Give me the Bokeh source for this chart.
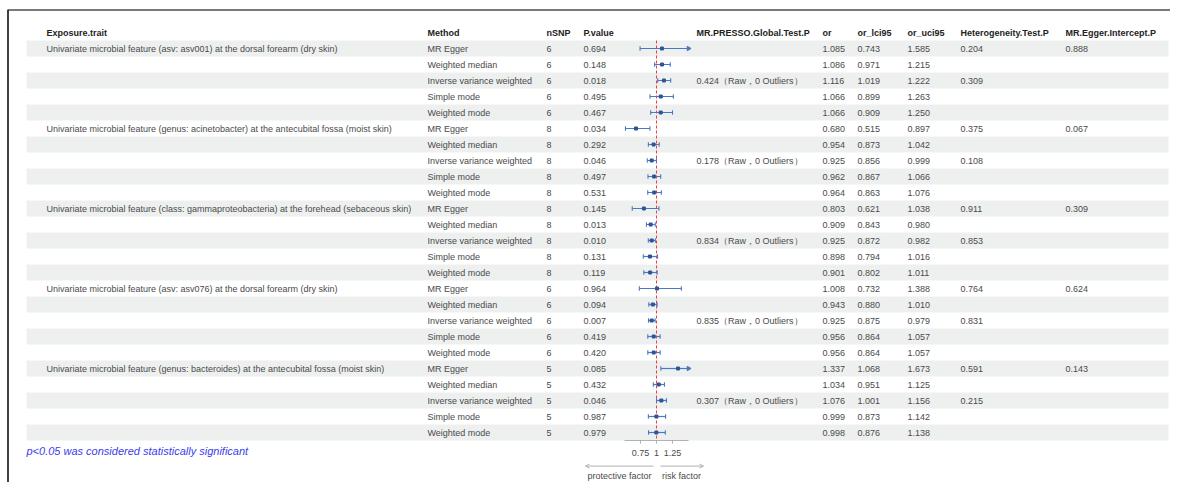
import numpy as np
from bokeh.plotting import figure
from bokeh.models import ColumnDataSource, Range1d, Arrow, OpenHead
from bokeh.core.properties import value
from bokeh.embed import file_html
from bokeh.resources import INLINE

# ---------------- data ----------------
exposures = [
    "Univariate microbial feature (asv: asv001) at the dorsal forearm (dry skin)",
    "Univariate microbial feature (genus: acinetobacter) at the antecubital fossa (moist skin)",
    "Univariate microbial feature (class: gammaproteobacteria) at the forehead (sebaceous skin)",
    "Univariate microbial feature (asv: asv076) at the dorsal forearm (dry skin)",
    "Univariate microbial feature (genus: bacteroides) at the antecubital fossa (moist skin)",
]
methods = ["MR Egger", "Weighted median", "Inverse variance weighted", "Simple mode", "Weighted mode"]
group_nsnp = [6, 8, 8, 6, 5]
p_values = [
    "0.694", "0.148", "0.018", "0.495", "0.467",
    "0.034", "0.292", "0.046", "0.497", "0.531",
    "0.145", "0.013", "0.010", "0.131", "0.119",
    "0.964", "0.094", "0.007", "0.419", "0.420",
    "0.085", "0.432", "0.046", "0.987", "0.979",
]
presso = ["0.424", "0.178", "0.834", "0.835", "0.307"]
or_vals = [1.085, 1.086, 1.116, 1.066, 1.066,
           0.680, 0.954, 0.925, 0.962, 0.964,
           0.803, 0.909, 0.925, 0.898, 0.901,
           1.008, 0.943, 0.925, 0.956, 0.956,
           1.337, 1.034, 1.076, 0.999, 0.998]
or_lci = [0.743, 0.971, 1.019, 0.899, 0.909,
          0.515, 0.873, 0.856, 0.867, 0.863,
          0.621, 0.843, 0.872, 0.794, 0.802,
          0.732, 0.880, 0.875, 0.864, 0.864,
          1.068, 0.951, 1.001, 0.873, 0.876]
or_uci = [1.585, 1.215, 1.222, 1.263, 1.250,
          0.897, 1.042, 0.999, 1.066, 1.076,
          1.038, 0.980, 0.982, 1.016, 1.011,
          1.388, 1.010, 0.979, 1.057, 1.057,
          1.673, 1.125, 1.156, 1.142, 1.138]
het_egger = ["0.204", "0.375", "0.911", "0.764", "0.591"]
het_ivw = ["0.309", "0.108", "0.853", "0.831", "0.215"]
egger_intercept = ["0.888", "0.067", "0.309", "0.624", "0.143"]
headers = ["Exposure.trait", "Method", "nSNP", "P.value", "MR.PRESSO.Global.Test.P",
           "or", "or_lci95", "or_uci95", "Heterogeneity.Test.P", "MR.Egger.Intercept.P"]
x_ticks = [0.75, 1, 1.25]
x_lim = (0.5, 1.5)
arrow_labels = ["protective factor", "risk factor"]
footnote = "p<0.05 was considered statistically significant"

# ---------------- layout constants ----------------
W, H = 1170, 482
ROW_PX = 16
ROW0_PX = 48            # canvas y of first row centre
REF_PX = 656            # canvas x of OR = 1
OR_PX = 64              # pixels per OR unit
col_x = [46, 427, 546, 583, 696, 822, 857, 907, 960, 1065]
FONT = value("Liberation Sans")
TXT = "#4a4a4a"

n_rows = len(or_vals)
rows = list(range(n_rows))

# expand tables into per-row columns
c_expo, c_meth, c_nsnp, c_presso, c_het, c_egg = [], [], [], [], [], []
for g in range(len(exposures)):
    for k, m in enumerate(methods):
        c_expo.append(exposures[g] if k == 0 else "")
        c_meth.append(m)
        c_nsnp.append(str(group_nsnp[g]))
        c_presso.append(f"{presso[g]}（Raw，0 Outliers）" if k == 2 else "")
        c_het.append(het_egger[g] if k == 0 else (het_ivw[g] if k == 2 else ""))
        c_egg.append(egger_intercept[g] if k == 0 else "")
c_or = [f"{v:.3f}" for v in or_vals]
c_lci = [f"{v:.3f}" for v in or_lci]
c_uci = [f"{v:.3f}" for v in or_uci]
table_cols = [c_expo, c_meth, c_nsnp, p_values, c_presso, c_or, c_lci, c_uci, c_het, c_egg]

y_top = -ROW0_PX / ROW_PX
y_bot = y_top + H / ROW_PX
or_start = 1 - REF_PX / OR_PX
p = figure(width=W, height=H, output_backend="svg", toolbar_location=None,
           x_range=Range1d(0, W), y_range=Range1d(y_bot, y_top),
           min_border=0, min_border_left=0, min_border_right=0,
           min_border_top=0, min_border_bottom=0)
p.extra_x_ranges = {"or": Range1d(or_start, or_start + W / OR_PX)}
p.axis.visible = False
p.grid.visible = False
p.outline_line_color = None
p.background_fill_color = "white"

# zebra shading
shade_rows = [r for r in rows if r % 2 == 0]
p.hbar(y=shade_rows, height=1, left=26, right=1168, fill_color="#EEF0F0", line_color=None)

# frame lines (screenshot border)
p.segment(x0=[7], x1=[W], y0=[y_top + 9.5 / ROW_PX], y1=[y_top + 9.5 / ROW_PX],
          line_color="#7a7a7a", line_width=2)
p.segment(x0=[7.5], x1=[7.5], y0=[y_top + 9.5 / ROW_PX], y1=[y_bot],
          line_color="#111111", line_width=1.6)

# header
p.text(x=col_x, y=[-1] * len(headers), text=headers, text_font=FONT, text_font_size="9px",
       text_font_style="bold", text_color="#222222", text_baseline="middle", text_align="left")

# table cells
for cx, col in zip(col_x, table_cols):
    p.text(x=[cx] * n_rows, y=rows, text=col, text_font=FONT, text_font_size="9px",
           text_color=TXT, text_baseline="middle", text_align="left")

# reference line
p.segment(x0=[1], x1=[1], y0=[-0.5], y1=[n_rows - 0.5], x_range_name="or",
          line_color="#F03C3C", line_width=1, line_dash="3 2")

# CIs
lo = [max(v, x_lim[0]) for v in or_lci]
hi = [min(v, x_lim[1]) for v in or_uci]
ci_src = ColumnDataSource(dict(y=rows, lo=lo, hi=hi, est=or_vals))
p.segment(x0="lo", x1="hi", y0="y", y1="y", source=ci_src, x_range_name="or",
          line_color="#4A78C2", line_width=1.2)
cap_lo = [(v, r) for v, r in zip(or_lci, rows) if v >= x_lim[0]]
cap_hi = [(v, r) for v, r in zip(or_uci, rows) if v <= x_lim[1]]
for caps in (cap_lo, cap_hi):
    p.segment(x0=[c[0] for c in caps], x1=[c[0] for c in caps],
              y0=[c[1] - 0.14 for c in caps], y1=[c[1] + 0.14 for c in caps],
              x_range_name="or", line_color="#4A78C2", line_width=1.1)
clip_hi = [r for v, r in zip(or_uci, rows) if v > x_lim[1]]
if clip_hi:
    p.scatter(x=[x_lim[1]] * len(clip_hi), y=clip_hi, marker="triangle", angle=-np.pi / 2,
              size=4.5, x_range_name="or", fill_color="#4A78C2", line_color="#4A78C2")
p.scatter(x="est", y="y", source=ci_src, x_range_name="or", marker="square", size=3,
          fill_color="#2F5597", line_color="#2F5597")

# forest axis
axis_y = n_rows - 0.5
p.segment(x0=[x_lim[0]], x1=[x_lim[1]], y0=[axis_y], y1=[axis_y], x_range_name="or",
          line_color="#a0a0a0", line_width=0.8)
p.segment(x0=x_ticks, x1=x_ticks, y0=[axis_y] * 3, y1=[axis_y + 0.2] * 3, x_range_name="or",
          line_color="#a0a0a0", line_width=0.8)
p.text(x=x_ticks, y=[axis_y + 0.8] * 3, text=[f"{t:g}" for t in x_ticks], x_range_name="or",
       text_font=FONT, text_font_size="9px", text_color=TXT,
       text_baseline="middle", text_align="center")

# direction arrows
arr_y = axis_y + 1.6
p.add_layout(Arrow(end=OpenHead(size=4, line_color="#a0a0a0", line_width=0.8),
                   x_start=REF_PX - 3, x_end=REF_PX - 71, y_start=arr_y, y_end=arr_y,
                   line_color="#a0a0a0", line_width=0.8))
p.add_layout(Arrow(end=OpenHead(size=4, line_color="#a0a0a0", line_width=0.8),
                   x_start=REF_PX + 4, x_end=REF_PX + 47, y_start=arr_y, y_end=arr_y,
                   line_color="#a0a0a0", line_width=0.8))
p.text(x=[REF_PX - 37, REF_PX + 25], y=[arr_y + 0.6] * 2, text=arrow_labels,
       text_font=FONT, text_font_size="9px", text_color=TXT,
       text_baseline="middle", text_align="center")

# footnote
p.text(x=[26], y=[n_rows + 0.125], text=[footnote], text_font=FONT, text_font_size="11px",
       text_font_style="italic", text_color="#3B3BEF", text_baseline="middle", text_align="left")

open("out.html", "w").write(file_html(p, INLINE))
